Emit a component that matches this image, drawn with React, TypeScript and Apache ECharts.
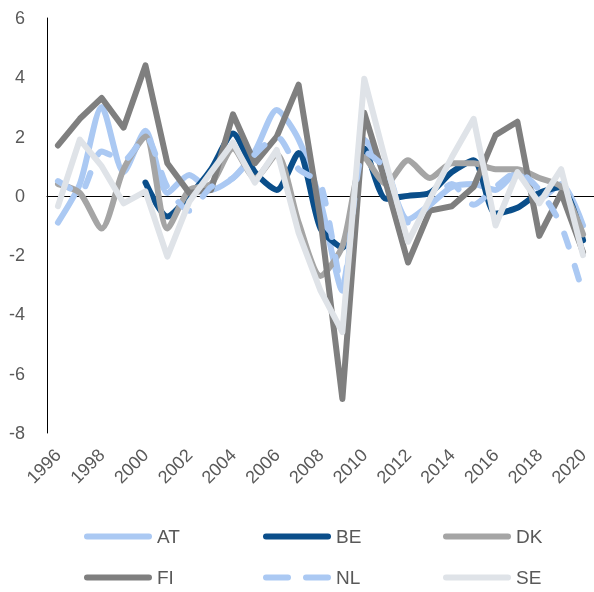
import React, { useEffect, useRef } from "react";
import * as echarts from "echarts";

const years = ["1996","1997","1998","1999","2000","2001","2002","2003","2004","2005","2006","2007","2008","2009","2010","2011","2012","2013","2014","2015","2016","2017","2018","2019","2020"];

const AT = [-0.9, 0.4, 3.0, 0.8, 2.2, 0.1, 0.7, 0.2, 0.6, 1.5, 2.9, 1.9, -0.2, -3.2, 1.9, 0.8, -0.8, -0.3, 0.3, 0.4, 0.2, 0.8, -0.1, 0.4, -1.0];
const BE = [null, null, null, null, 0.45, -0.7, 0.0, 0.9, 2.1, 0.8, 0.2, 1.45, -1.1, -1.75, 1.6, -0.1, 0.0, 0.1, 0.8, 1.2, -0.6, -0.4, 0.1, 0.3, -1.5];
const DK = [0.4, 0.1, -1.1, 0.9, 2.0, -1.1, 0.2, 0.4, 1.6, 0.6, 1.4, -0.9, -2.7, -1.7, 1.3, 0.4, 1.2, 0.6, 1.1, 1.1, 0.9, 0.9, 0.6, 0.3, -1.3];
const FI = [1.7, 2.6, 3.3, 2.3, 4.4, 1.1, 0.1, 0.2, 2.75, 1.1, 2.0, 3.75, -0.8, -6.85, 2.8, 0.4, -2.25, -0.5, -0.35, 0.3, 2.05, 2.5, -1.35, 0.1, -1.9];
const NL = [0.5, 0.1, 1.5, 1.2, 2.0, 0.3, -0.5, 0.3, 0.6, 1.4, 2.0, 0.9, 0.4, -3.0, 1.5, 0.9, -0.9, -0.3, 0.4, -0.3, 0.3, 0.8, 0.2, -1.0, -3.3];
const SE = [-0.35, 1.9, 1.0, -0.25, 0.15, -2.05, -0.2, 0.8, 1.8, 0.45, 1.55, -1.25, -3.2, -4.6, 3.95, 1.1, -1.55, -0.1, 1.3, 2.6, -1.0, 0.8, -0.25, 0.9, -2.0];

const FONT = "'Liberation Sans', Arial, sans-serif";

const SOLID_ICON = "path://M3,0 H65 A3,3 0 0 1 65,6 H3 A3,3 0 0 1 3,0 Z";
const DASH_ICON = "path://M3,0 H25 A3,3 0 0 1 25,6 H3 A3,3 0 0 1 3,0 Z M43,0 H65 A3,3 0 0 1 65,6 H43 A3,3 0 0 1 43,0 Z";

export default function App() {
  const ref = useRef<HTMLDivElement>(null);
  useEffect(() => {
    if (!ref.current) return;
    const chart = echarts.init(ref.current, undefined, { renderer: "svg" });
    const mk = (name: string, data: (number | null)[], color: string, smooth: number | boolean, dashed = false) => ({
      name,
      type: "line",
      data,
      xAxisIndex: 0,
      symbol: "none",
      showSymbol: false,
      smooth,
      connectNulls: false,
      lineStyle: {
        color,
        width: 6,
        cap: "round",
        join: "round",
        type: dashed ? [14, 20] : "solid",
      },
      itemStyle: { color },
    });
    const leg = (name: string, left: number, top: number, color: string, dashed = false) => ({
      data: [name],
      left,
      top,
      padding: 0,
      icon: dashed ? DASH_ICON : SOLID_ICON,
      itemWidth: 68,
      itemHeight: 6,
      itemStyle: { color, borderWidth: 0 },
      lineStyle: { width: 0, opacity: 0 },
      textStyle: { color: "#595959", fontSize: 19, fontFamily: FONT, lineHeight: 19 },
      selectedMode: false,
    });
    chart.setOption({
      animation: false,
      grid: { left: 47, right: -9, top: 18, bottom: 159, containLabel: false },
      xAxis: [
        {
          type: "category",
          data: years,
          boundaryGap: true,
          position: "bottom",
          axisLine: { show: true, onZero: true, lineStyle: { color: "#000", width: 1 } },
          axisTick: { show: false },
          axisLabel: { show: false },
          splitLine: { show: false },
        },
        {
          type: "category",
          data: years,
          boundaryGap: true,
          position: "bottom",
          axisLine: { show: false, onZero: false },
          axisTick: { show: false },
          axisLabel: {
            show: true,
            interval: 1,
            rotate: 45,
            margin: 19,
            color: "#595959",
            fontSize: 18,
            fontFamily: FONT,
          },
          splitLine: { show: false },
        },
      ],
      yAxis: {
        type: "value",
        min: -8,
        max: 6,
        interval: 2,
        axisLine: { show: true, lineStyle: { color: "#000", width: 1 } },
        axisTick: { show: false },
        splitLine: { show: false },
        axisLabel: { color: "#595959", fontSize: 18, fontFamily: FONT, margin: 22 },
      },
      legend: [
        leg("AT", 84, 527, "#abc9f3"),
        leg("BE", 263, 527, "#0a4e8a"),
        leg("DK", 443, 527, "#a5a5a5"),
        leg("FI", 84, 568, "#7f7f7f"),
        leg("NL", 263, 568, "#abc9f3", true),
        leg("SE", 443, 568, "#dfe3e8"),
      ],
      series: [
        mk("AT", AT, "#abc9f3", 0.25),
        mk("BE", BE, "#0a4e8a", 0.25),
        mk("DK", DK, "#a5a5a5", 0.25),
        mk("FI", FI, "#7f7f7f", false),
        mk("NL", NL, "#abc9f3", 0.25, true),
        mk("SE", SE, "#dfe3e8", false),
      ],
    });
    return () => chart.dispose();
  }, []);
  return <div ref={ref} style={{ position: "fixed", left: 0, top: 0, width: 594, height: 592 }} />;
}
